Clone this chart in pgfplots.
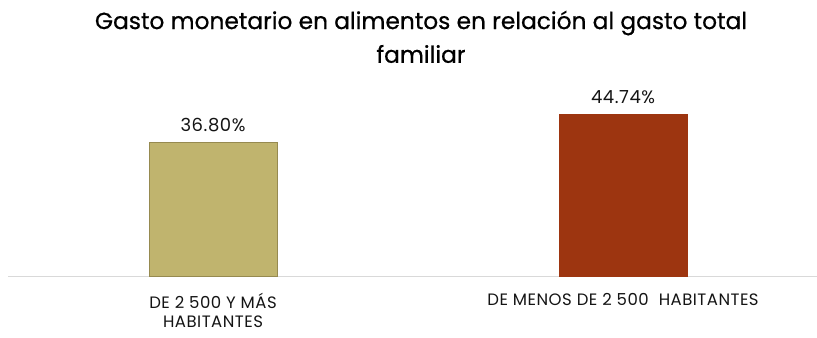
\documentclass[border=0pt]{standalone}
\usepackage{fontspec}
\setmainfont{Poppins}
\newfontfamily\titlefont{Poppins}[FakeBold=0.6]
\newfontfamily\labfont{Poppins}[LetterSpace=3]
\usepackage{pgfplots}
\pgfplotsset{compat=1.18}
\definecolor{barA}{RGB}{192,180,110}
\definecolor{barAedge}{RGB}{150,138,80}
\definecolor{barB}{RGB}{157,53,16}
\definecolor{gridgray}{RGB}{217,217,217}
\definecolor{txt}{RGB}{20,20,20}
\begin{document}
\begin{tikzpicture}[x=1bp,y=1bp]
\useasboundingbox (0,0) rectangle (817,337);
\node[font=\titlefont\fontsize{23.3bp}{27bp}\selectfont, text=black] at (421,314) {Gasto monetario en alimentos en relación al gasto total};
\node[font=\titlefont\fontsize{23.3bp}{27bp}\selectfont, text=black] at (421,283) {familiar};
\begin{axis}[
  at={(8bp,61bp)}, anchor=south west,
  scale only axis, width=809bp, height=186bp,
  xmin=-0.5, xmax=1.473, ymin=0, ymax=51.4,
  hide y axis,
  axis x line=bottom,
  axis line style={draw=gridgray, line width=1bp, -},
  xtick={0,1},
  xticklabels={{DE 2 500 Y MÁS\\HABITANTES},{DE MENOS DE 2 500\hspace{10bp}HABITANTES}},
  xticklabel style={align=center, font=\labfont\fontsize{16.5bp}{19.5bp}\selectfont, text=txt, yshift=-16bp, inner sep=1bp},
  major tick length=0pt,
  ybar, bar width=128bp,
  nodes near coords={\pgfmathprintnumber[fixed,fixed zerofill,precision=2]{\pgfplotspointmeta}\%},
  nodes near coords style={font=\labfont\fontsize{18bp}{20bp}\selectfont, text=txt, yshift=7bp},
  /pgf/number format/assume math mode=true,
  clip=false,
]
\addplot[bar shift=0pt, fill=barA, draw=barAedge, line width=1bp] coordinates {(0,36.80)};
\addplot[bar shift=0pt, fill=barB, draw=barB] coordinates {(1,44.74)};
\end{axis}
\end{tikzpicture}
\end{document}
